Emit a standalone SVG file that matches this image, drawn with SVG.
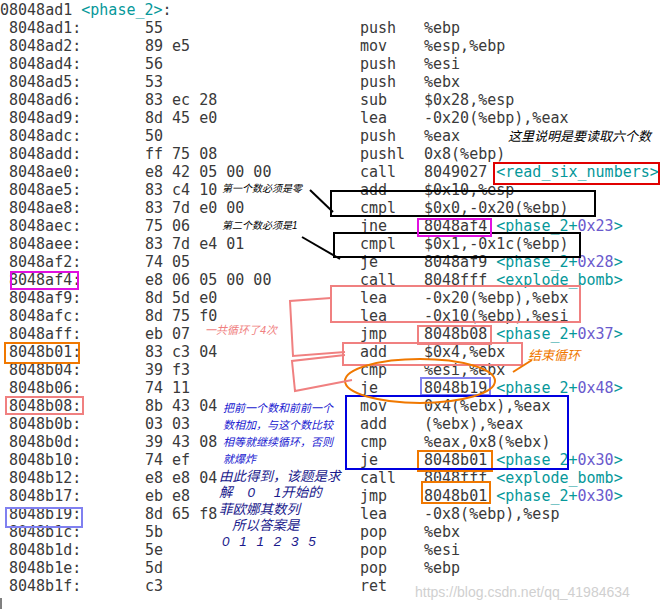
<svg xmlns="http://www.w3.org/2000/svg" width="667" height="609" viewBox="0 0 667 609">
<style>
.m{font-family:"DejaVu Sans Mono","Liberation Mono",monospace;font-size:15px;fill:#3a3a3a}
.t{fill:#06989a}.p{fill:#6a5acd}
.n{font-family:"Liberation Sans","Noto Sans CJK SC",sans-serif;font-style:italic}
.bx{fill:none;stroke-width:2}
</style>
<rect width="667" height="609" fill="#fff"/>
<g id="code" class="m">
<text x="0" y="15">08048ad1 <tspan class="t">&lt;phase_2&gt;</tspan>:</text>
<g id="addr">
<text x="9" y="33">8048ad1:</text><text x="9" y="51">8048ad2:</text><text x="9" y="69">8048ad4:</text><text x="9" y="87">8048ad5:</text>
<text x="9" y="105">8048ad6:</text><text x="9" y="123">8048ad9:</text><text x="9" y="141">8048adc:</text><text x="9" y="159">8048add:</text>
<text x="9" y="177">8048ae0:</text><text x="9" y="195">8048ae5:</text><text x="9" y="213">8048ae8:</text><text x="9" y="231">8048aec:</text>
<text x="9" y="249">8048aee:</text><text x="9" y="267">8048af2:</text><text x="9" y="285">8048af4:</text><text x="9" y="303">8048af9:</text>
<text x="9" y="321">8048afc:</text><text x="9" y="339">8048aff:</text><text x="9" y="357">8048b01:</text><text x="9" y="375">8048b04:</text>
<text x="9" y="393">8048b06:</text><text x="9" y="411">8048b08:</text><text x="9" y="429">8048b0b:</text><text x="9" y="447">8048b0d:</text>
<text x="9" y="465">8048b10:</text><text x="9" y="483">8048b12:</text><text x="9" y="501">8048b17:</text><text x="9" y="519">8048b19:</text>
<text x="9" y="537">8048b1c:</text><text x="9" y="555">8048b1d:</text><text x="9" y="573">8048b1e:</text><text x="9" y="591">8048b1f:</text>
</g>
<g id="bytes">
<text x="145" y="33">55</text><text x="145" y="51">89 e5</text><text x="145" y="69">56</text><text x="145" y="87">53</text>
<text x="145" y="105">83 ec 28</text><text x="145" y="123">8d 45 e0</text><text x="145" y="141">50</text><text x="145" y="159">ff 75 08</text>
<text x="145" y="177">e8 42 05 00 00</text><text x="145" y="195">83 c4 10</text><text x="145" y="213">83 7d e0 00</text><text x="145" y="231">75 06</text>
<text x="145" y="249">83 7d e4 01</text><text x="145" y="267">74 05</text><text x="145" y="285">e8 06 05 00 00</text><text x="145" y="303">8d 5d e0</text>
<text x="145" y="321">8d 75 f0</text><text x="145" y="339">eb 07</text><text x="145" y="357">83 c3 04</text><text x="145" y="375">39 f3</text>
<text x="145" y="393">74 11</text><text x="145" y="411">8b 43 04</text><text x="145" y="429">03 03</text><text x="145" y="447">39 43 08</text>
<text x="145" y="465">74 ef</text><text x="145" y="483">e8 e8 04</text><text x="145" y="501">eb e8</text><text x="145" y="519">8d 65 f8</text>
<text x="145" y="537">5b</text><text x="145" y="555">5e</text><text x="145" y="573">5d</text><text x="145" y="591">c3</text>
</g>
<g id="mnem">
<text x="360" y="33">push</text><text x="360" y="51">mov</text><text x="360" y="69">push</text><text x="360" y="87">push</text>
<text x="360" y="105">sub</text><text x="360" y="123">lea</text><text x="360" y="141">push</text><text x="360" y="159">pushl</text>
<text x="360" y="177">call</text><text x="360" y="195">add</text><text x="360" y="213">cmpl</text><text x="360" y="231">jne</text>
<text x="360" y="249">cmpl</text><text x="360" y="267">je</text><text x="360" y="285">call</text><text x="360" y="303">lea</text>
<text x="360" y="321">lea</text><text x="360" y="339">jmp</text><text x="360" y="357">add</text><text x="360" y="375">cmp</text>
<text x="360" y="393">je</text><text x="360" y="411">mov</text><text x="360" y="429">add</text><text x="360" y="447">cmp</text>
<text x="360" y="465">je</text><text x="360" y="483">call</text><text x="360" y="501">jmp</text><text x="360" y="519">lea</text>
<text x="360" y="537">pop</text><text x="360" y="555">pop</text><text x="360" y="573">pop</text><text x="360" y="591">ret</text>
</g>
<g id="ops">
<text x="424" y="33">%ebp</text><text x="424" y="51">%esp,%ebp</text><text x="424" y="69">%esi</text><text x="424" y="87">%ebx</text>
<text x="424" y="105">$0x28,%esp</text><text x="424" y="123">-0x20(%ebp),%eax</text><text x="424" y="141">%eax</text><text x="424" y="159">0x8(%ebp)</text>
<text x="424" y="177">8049027 <tspan class="t">&lt;read_six_numbers&gt;</tspan></text><text x="424" y="195">$0x10,%esp</text><text x="424" y="213">$0x0,-0x20(%ebp)</text>
<text x="424" y="231">8048af4 <tspan class="t">&lt;phase_2+</tspan><tspan class="p">0x23</tspan><tspan class="t">&gt;</tspan></text>
<text x="424" y="249">$0x1,-0x1c(%ebp)</text>
<text x="424" y="267">8048af9 <tspan class="t">&lt;phase_2+</tspan><tspan class="p">0x28</tspan><tspan class="t">&gt;</tspan></text>
<text x="424" y="285">8048fff <tspan class="t">&lt;explode_bomb&gt;</tspan></text>
<text x="424" y="303">-0x20(%ebp),%ebx</text><text x="424" y="321">-0x10(%ebp),%esi</text>
<text x="424" y="339">8048b08 <tspan class="t">&lt;phase_2+</tspan><tspan class="p">0x37</tspan><tspan class="t">&gt;</tspan></text>
<text x="424" y="357">$0x4,%ebx</text><text x="424" y="375">%esi,%ebx</text>
<text x="424" y="393">8048b19 <tspan class="t">&lt;phase_2+</tspan><tspan class="p">0x48</tspan><tspan class="t">&gt;</tspan></text>
<text x="424" y="411">0x4(%ebx),%eax</text><text x="424" y="429">(%ebx),%eax</text><text x="424" y="447">%eax,0x8(%ebx)</text>
<text x="424" y="465">8048b01 <tspan class="t">&lt;phase_2+</tspan><tspan class="p">0x30</tspan><tspan class="t">&gt;</tspan></text>
<text x="424" y="483">8048fff <tspan class="t">&lt;explode_bomb&gt;</tspan></text>
<text x="424" y="501">8048b01 <tspan class="t">&lt;phase_2+</tspan><tspan class="p">0x30</tspan><tspan class="t">&gt;</tspan></text>
<text x="424" y="519">-0x8(%ebp),%esp</text><text x="424" y="537">%ebx</text><text x="424" y="555">%esi</text><text x="424" y="573">%ebp</text>
</g>
</g>
<g id="boxes">
<rect class="bx" x="494" y="163" width="165" height="21" stroke="#e00000"/>
<rect class="bx" x="331" y="191" width="264" height="25" stroke="#000"/>
<rect class="bx" x="334" y="233" width="246" height="24" stroke="#000"/>
<rect class="bx" x="418" y="219" width="73" height="17" stroke="#e010e0"/>
<rect class="bx" x="11" y="272" width="67" height="17" stroke="#e010e0"/>
<rect class="bx" x="331" y="286" width="249" height="36" stroke="#f08080"/>
<rect class="bx" x="418" y="326" width="73" height="18" stroke="#f08080"/>
<rect class="bx" x="343" y="343" width="179" height="22" stroke="#f08080"/>
<rect class="bx" x="6" y="397" width="77" height="17" stroke="#f08080"/>
<rect class="bx" x="5" y="343" width="74" height="20" stroke="#f07800"/>
<rect class="bx" x="418" y="451" width="74" height="20" stroke="#f07800"/>
<rect class="bx" x="422" y="482" width="68" height="21" stroke="#f07800"/>
<rect class="bx" x="421" y="378" width="69" height="17" stroke="#8080f0"/>
<rect class="bx" x="6" y="508" width="76" height="19" stroke="#8080f0"/>
<rect class="bx" x="346" y="396" width="222" height="73" stroke="#0000e0"/>
<ellipse class="bx" cx="420" cy="381" rx="75" ry="22" stroke="#f07800"/>
</g>
<g id="connectors" fill="none" stroke-width="2">
<line x1="310" y1="190" x2="333" y2="212" stroke="#000"/>
<line x1="302" y1="237" x2="340" y2="259" stroke="#000"/>
<polyline points="331,298 290,301 293,356 345,352" stroke="#f08080"/>
<polyline points="345,355 292,361 295,391 352,380" stroke="#f08080"/>
<line x1="513" y1="372" x2="532" y2="360" stroke="#f07800"/>
</g>
<g id="notes" class="n">
<text x="508" y="141" font-size="13" fill="#000">这里说明是要读取六个数</text>
<text x="222" y="192" font-size="10" fill="#000">第一个数必须是零</text>
<text x="222" y="229" font-size="10" fill="#000">第二个数必须是1</text>
<text x="205" y="334" font-size="11" fill="#f08080">一共循环了4次</text>
<text x="528" y="360" font-size="13" fill="#f07800">结束循环</text>
<g font-size="11" fill="#2020d0">
<text x="223" y="412">把前一个数和前前一个</text><text x="223" y="429">数相加，与这个数比较</text>
<text x="223" y="446">相等就继续循环，否则</text><text x="223" y="463">就爆炸</text></g>
<g font-size="13.5" fill="#1a1a8c">
<text x="219" y="481">由此得到，该题是求</text><text x="219" y="497" xml:space="preserve">解    0     1开始的</text>
<text x="219" y="514">菲欧娜其数列</text><text x="232" y="530">所以答案是</text>
<text x="222" y="546" letter-spacing="3">0 1 1 2 3 5</text></g>
</g>
<text x="415" y="597" font-family="Liberation Sans,sans-serif" font-size="14" fill="#d0d0d0">https://blog.csdn.net/qq_41984634</text>
<line x1="1" y1="598" x2="1" y2="609" stroke="#000"/>
</svg>
